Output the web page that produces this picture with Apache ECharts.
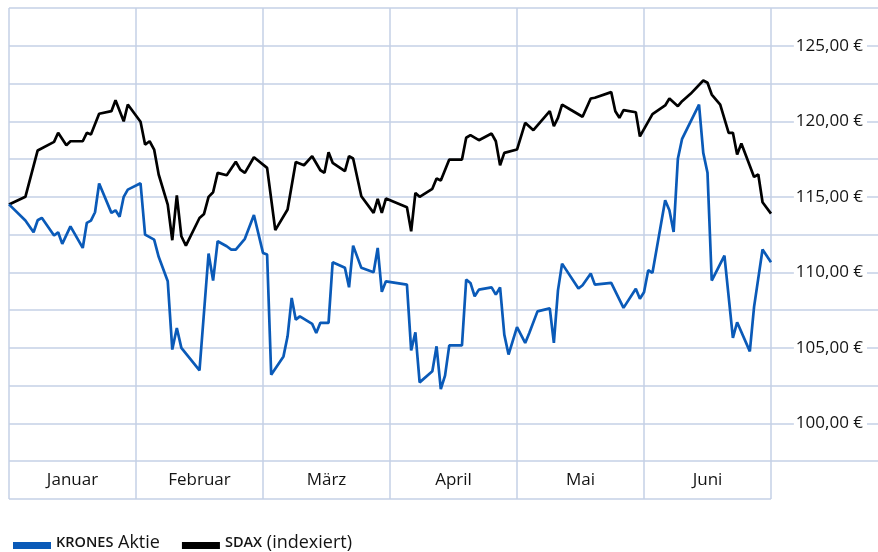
<!DOCTYPE html>
<html>
<head>
<meta charset="utf-8">
<script src="https://cdn.jsdelivr.net/npm/echarts@6/dist/echarts.min.js"></script>
<style>
  html, body { margin: 0; padding: 0; background: #fff; }
  #chart { width: 878px; height: 552px; }
</style>
</head>
<body>
<div id="chart"></div>
<script>
// months shown on the x axis
const months = ['Januar', 'Februar', 'März', 'April', 'Mai', 'Juni'];
const monthDays = [31, 28, 31, 30, 31, 30];

// y axis labels (EUR)
const priceTicks = [100, 105, 110, 115, 120, 125];

// KRONES share price
const kronesDates = ['12-31','01-04','01-06','01-07','01-08','01-11','01-12','01-13','01-15','01-18','01-19','01-20','01-21','01-22','01-25','01-26','01-27','01-28','01-29',
  '02-01','02-02','02-04','02-05','02-07','02-08','02-09','02-10','02-14','02-16','02-17','02-18','02-20','02-21','02-22','02-24','02-26','02-28',
  '03-01','03-02','03-05','03-06','03-07','03-08','03-09','03-12','03-13','03-14','03-16','03-17','03-20','03-21','03-22','03-24','03-27','03-28','03-29','03-30',
  '04-04','04-05','04-06','04-07','04-10','04-11','04-12','04-13','04-14','04-17','04-18','04-19','04-20','04-21','04-24','04-25','04-26','04-27','04-28','04-30',
  '05-02','05-03','05-05','05-08','05-09','05-10','05-11','05-15','05-16','05-18','05-19','05-23','05-26','05-29','05-30','05-31',
  '06-01','06-02','06-05','06-06','06-07','06-08','06-09','06-13','06-14','06-15','06-16','06-19','06-21','06-22','06-25','06-26','06-28','06-30'];
const kronesValues = [114.5,113.43,112.66,113.45,113.61,112.44,112.66,111.89,113.05,111.62,113.28,113.43,113.98,115.88,113.94,114.11,113.68,115.0,115.48,
  115.9,112.5,112.17,111.03,109.41,104.89,106.32,105.0,103.52,111.25,109.46,112.06,111.73,111.51,111.51,112.22,113.8,111.29,
  111.18,103.23,104.44,105.77,108.31,106.87,107.09,106.59,105.99,106.66,106.66,110.67,110.3,109.01,111.77,110.3,110.01,111.62,108.71,109.41,
  109.19,104.84,106.03,102.72,103.45,105.11,102.28,103.17,105.17,105.17,109.52,109.3,108.42,108.86,109.01,108.53,109.01,105.88,104.56,106.37,
  105.33,105.99,107.42,107.62,105.33,108.81,110.58,108.93,109.15,109.92,109.19,109.3,107.65,108.91,108.25,108.68,
  110.14,109.97,114.77,114.11,112.68,117.52,118.84,121.11,117.91,116.59,109.46,111.11,105.66,106.7,104.77,107.72,111.51,110.67];

// SDAX, indexed to the KRONES start value
const sdaxDates = ['12-31','01-04','01-07','01-11','01-12','01-14','01-15','01-18','01-19','01-20','01-22','01-25','01-26','01-28','01-29',
  '02-01','02-02','02-03','02-04','02-05','02-07','02-08','02-09','02-10','02-11','02-14','02-15','02-16','02-17','02-18','02-20','02-22','02-23','02-24','02-26',
  '03-01','03-03','03-06','03-08','03-10','03-12','03-14','03-15','03-16','03-17','03-20','03-21','03-22','03-24','03-27','03-28','03-29','03-30',
  '04-04','04-05','04-06','04-07','04-10','04-11','04-12','04-14','04-17','04-18','04-19','04-21','04-24','04-25','04-26','04-27','04-30',
  '05-02','05-04','05-08','05-09','05-10','05-11','05-13','05-16','05-18','05-19','05-23','05-24','05-25','05-26','05-29','05-30',
  '06-02','06-05','06-06','06-08','06-09','06-11','06-14','06-15','06-16','06-18','06-20','06-21','06-22','06-23','06-26','06-27','06-28','06-30'];
const sdaxValues = [114.5,115.0,118.07,118.64,119.24,118.42,118.68,118.68,119.24,119.13,120.5,120.67,121.4,120.0,121.11,
  119.97,118.46,118.68,118.13,116.48,114.49,112.13,115.1,112.39,111.77,113.6,113.87,115.0,115.3,116.59,116.43,117.32,116.8,116.59,117.62,
  116.92,112.8,114.16,117.3,117.09,117.69,116.76,116.59,117.95,117.25,116.7,117.69,117.54,115.04,113.94,114.87,113.94,114.89,
  114.31,112.72,115.26,115.0,115.53,116.21,116.08,117.47,117.47,118.91,119.08,118.75,119.19,118.68,117.09,117.91,118.13,
  119.9,119.41,120.67,119.68,120.23,121.11,120.78,120.3,121.51,121.56,121.93,120.67,120.23,120.74,120.6,119.0,
  120.48,121.05,121.51,121.0,121.33,121.82,122.7,122.55,121.77,121.11,119.24,119.24,117.8,118.53,116.32,116.48,114.64,113.89];

// every month gets the same width; 12-31 is the start of the axis
function monthPos(d) {
    const [mm, dd] = d.split('-').map(Number);
    if (mm === 12) return dd / 31 - 1;
    return (mm - 1) + dd / monthDays[mm - 1];
}
function pairs(dates, values) {
    return dates.map((d, i) => [monthPos(d), values[i]]);
}
function euro(v) {
    return v.toFixed(2).replace('.', ',') + ' €';
}

const gridColor = '#c5d1e6';
const textColor = '#141414';
const font = 'Open Sans';

const chart = echarts.init(document.getElementById('chart'));

const option = {
    animation: false,
    backgroundColor: '#fff',
    grid: [
        { left: 9, right: 107, top: 8, bottom: 53, containLabel: false, outerBoundsMode: 'none' },
        { left: 771, right: 0, top: 8, bottom: 91, containLabel: false, outerBoundsMode: 'none' }
    ],
    xAxis: [
        {
            gridIndex: 0, type: 'value', min: 0, max: 6, interval: 1,
            axisLine: { show: false }, axisTick: { show: false }, axisLabel: { show: false },
            splitLine: { show: true, lineStyle: { color: gridColor, width: 1.5 } }
        },
        {
            gridIndex: 0, type: 'category', data: months, boundaryGap: true,
            position: 'bottom', offset: -19,
            axisLine: { show: false }, axisTick: { show: false }, splitLine: { show: false },
            axisLabel: { margin: 0, verticalAlign: 'middle', color: textColor, fontFamily: font, fontSize: 17 }
        },
        { gridIndex: 1, type: 'value', min: 0, max: 1, show: false }
    ],
    yAxis: [
        {
            gridIndex: 0, type: 'value', min: 95, max: 127.5, interval: 2.5,
            axisLine: { show: false }, axisTick: { show: false }, axisLabel: { show: false },
            splitLine: { show: true, lineStyle: { color: gridColor, width: 1.5 } }
        },
        {
            gridIndex: 1, type: 'value', min: 97.5, max: 127.5, interval: 2.5, position: 'right',
            axisLine: { show: false }, axisTick: { show: false },
            splitLine: { show: true, lineStyle: { color: gridColor, width: 1.5 } },
            axisLabel: {
                inside: true, margin: 11,
                color: textColor, fontFamily: font, fontSize: 17,
                backgroundColor: '#fff', padding: [0, 4, 0, 2],
                formatter: v => priceTicks.includes(v) ? euro(v) : ''
            }
        }
    ],
    legend: {
        left: 8, top: 528,
        itemWidth: 38, itemHeight: 7, itemGap: 22,
        icon: 'rect',
        data: ['KRONES Aktie', 'SDAX (indexiert)'],
        formatter: name => {
            const i = name.indexOf(' ');
            return '{sc|' + name.slice(0, i) + '}' + name.slice(i);
        },
        textStyle: {
            color: textColor, fontFamily: font, fontSize: 18, lineHeight: 20,
            padding: [0, 0, 5, 0],
            rich: { sc: { fontSize: 14.5, fontWeight: 600, lineHeight: 20, color: textColor, fontFamily: font } }
        }
    },
    series: [
        {
            name: 'SDAX (indexiert)', type: 'line', xAxisIndex: 0, yAxisIndex: 0,
            data: pairs(sdaxDates, sdaxValues),
            showSymbol: false, color: '#000',
            lineStyle: { width: 2.7, color: '#000' }
        },
        {
            name: 'KRONES Aktie', type: 'line', xAxisIndex: 0, yAxisIndex: 0,
            data: pairs(kronesDates, kronesValues),
            showSymbol: false, color: '#0a5ab8',
            lineStyle: { width: 2.7, color: '#0a5ab8' }
        }
    ]
};

chart.setOption(option);
</script>
</body>
</html>
